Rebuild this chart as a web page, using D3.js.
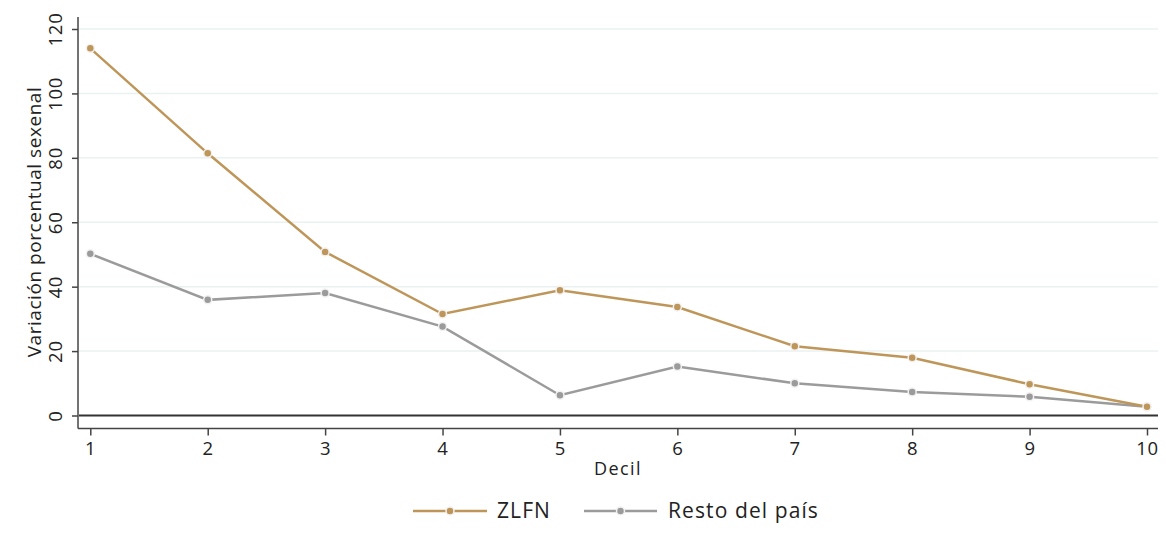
<!DOCTYPE html>
<html><head><meta charset="utf-8">
<script src="https://cdn.jsdelivr.net/npm/d3@7"></script>
<style>
body{margin:0;background:#fff;}
text{font-family:"Open Sans","Noto Sans",sans-serif;fill:#222;}
</style></head>
<body><svg id="chart" width="1166" height="553"></svg>
<script>
const deciles = [1,2,3,4,5,6,7,8,9,10];
const zlfn = [114.0, 81.4, 50.8, 31.5, 38.9, 33.7, 21.5, 17.9, 9.7, 2.7];
const resto = [50.2, 35.9, 38.0, 27.6, 6.3, 15.2, 10.0, 7.3, 5.8, 2.7];
const yTicks = [0,20,40,60,80,100,120];
const seriesNames = ["ZLFN","Resto del país"];
const colors = ["#bf9659","#9b9b9b"];

const svg = d3.select("#chart");
const x = d3.scaleLinear().domain([1,10]).range([90.3,1147]);
const y = d3.scaleLinear().domain([0,120]).range([415.5,29]);

// gridlines
svg.append("g").selectAll("line").data(yTicks.filter(d=>d>0)).join("line")
  .attr("x1",79).attr("x2",1158).attr("y1",d=>y(d)).attr("y2",d=>y(d))
  .attr("stroke","#eaf1f1").attr("stroke-width",1.5);

// zero line
svg.append("line").attr("x1",79).attr("x2",1158).attr("y1",y(0)).attr("y2",y(0))
  .attr("stroke","#333").attr("stroke-width",2);

// y axis
const yAxis = d3.axisLeft(y).tickValues(yTicks).tickSize(6).tickPadding(8);
const gy = svg.append("g").attr("transform","translate(78,0)").call(yAxis);
gy.select(".domain").attr("d","M0,17V428.5").attr("stroke","#444").attr("stroke-width",1.5);
gy.selectAll(".tick line").attr("stroke","#444").attr("stroke-width",1.5);
gy.selectAll(".tick text")
  .attr("font-size",18.5).attr("fill","#222").attr("letter-spacing",0.8)
  .attr("x",null).attr("dy",null)
  .attr("text-anchor","middle")
  .attr("transform","translate(-22,0) rotate(-90)")
  .attr("dy","0.35em");

// x axis
const xAxis = d3.axisBottom(x).tickValues(deciles).tickSize(7).tickPadding(6).tickFormat(d3.format("d"));
const gx = svg.append("g").attr("transform","translate(0,428.5)").call(xAxis);
gx.select(".domain").attr("d","M78,0H1158").attr("stroke","#444").attr("stroke-width",1.5);
gx.selectAll(".tick line").attr("stroke","#444").attr("stroke-width",1.5);
gx.selectAll(".tick text").attr("font-size",18.5).attr("fill","#222").attr("letter-spacing",0.8);

// axis titles
svg.append("text").attr("x",618).attr("y",475).attr("text-anchor","middle")
  .attr("font-size",18).attr("letter-spacing",1.4).text("Decil");
svg.append("text").attr("transform","translate(41,222) rotate(-90)")
  .attr("text-anchor","middle").attr("font-size",19).attr("letter-spacing",0.55)
  .text("Variación porcentual sexenal");

// lines
const line = d3.line().x((d,i)=>x(deciles[i])).y(d=>y(d));
[zlfn,resto].slice().reverse().forEach((data,k)=>{
  const c = colors[1-k];
  svg.append("path").datum(data).attr("d",line).attr("fill","none")
    .attr("stroke",c).attr("stroke-width",2.5);
  svg.append("g").selectAll("circle").data(data).join("circle")
    .attr("cx",(d,i)=>x(deciles[i])).attr("cy",d=>y(d)).attr("r",4)
    .attr("fill",c).attr("stroke","#f2f2f2").attr("stroke-width",1.5);
});

// legend
const leg = [{x0:413,x1:487,tx:497},{x0:584,x1:657,tx:668}];
leg.forEach((l,i)=>{
  const g = svg.append("g");
  g.append("line").attr("x1",l.x0).attr("x2",l.x1).attr("y1",511).attr("y2",511)
    .attr("stroke",colors[i]).attr("stroke-width",2.5);
  g.append("circle").attr("cx",(l.x0+l.x1)/2).attr("cy",511).attr("r",4)
    .attr("fill",colors[i]).attr("stroke","#f2f2f2").attr("stroke-width",1.5);
  g.append("text").attr("x",l.tx).attr("y",511).attr("dy","0.35em")
    .attr("font-size",21).attr("letter-spacing",1.1).text(seriesNames[i]);
});
</script></body></html>
